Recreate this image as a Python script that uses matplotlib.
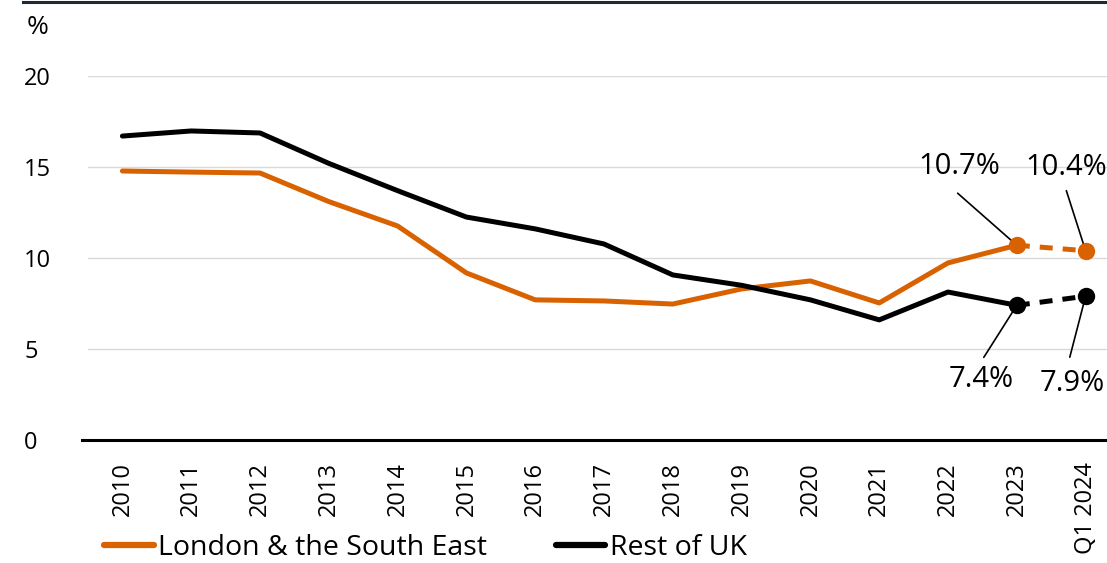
import matplotlib.pyplot as plt
from matplotlib.lines import Line2D

plt.rcParams['font.family'] = ['Open Sans', 'DejaVu Sans']

categories = ['2010', '2011', '2012', '2013', '2014', '2015', '2016', '2017',
              '2018', '2019', '2020', '2021', '2022', '2023', 'Q1 2024']
london_se = [14.78, 14.72, 14.67, 13.1, 11.76, 9.18, 7.7, 7.64, 7.47, 8.3,
             8.74, 7.53, 9.73, 10.7, 10.4]
rest_uk = [16.7, 16.98, 16.87, 15.2, 13.7, 12.25, 11.6, 10.77, 9.07, 8.5,
           7.7, 6.6, 8.13, 7.4, 7.9]
yticks = [0, 5, 10, 15, 20]

orange = '#d96200'
black = '#000000'

fig = plt.figure(figsize=(11.07, 5.63), dpi=100)
ax = fig.add_axes([88 / 1107, 1 - 440 / 563, 1 - 88 / 1107, (440 - 76) / 563])
ax.set_ylim(0, 20)
ax.set_xlim(-0.5, (1107 - 88) / 68.8 - 0.5)

x = list(range(len(categories)))
n = len(categories)
# solid history up to 2023, dashed to latest quarter
ax.plot(x[:n - 1], london_se[:n - 1], color=orange, lw=3.6, solid_capstyle='round', zorder=3)
ax.plot(x[n - 2:], london_se[n - 2:], color=orange, lw=3.6, ls=(0, (2.6, 2.0)), zorder=3)
ax.plot(x[:n - 1], rest_uk[:n - 1], color=black, lw=3.6, solid_capstyle='round', zorder=3)
ax.plot(x[n - 2:], rest_uk[n - 2:], color=black, lw=3.6, ls=(0, (2.6, 2.0)), zorder=3)
ax.plot(x[n - 2:], london_se[n - 2:], 'o', color=orange, ms=11.5, zorder=4)
ax.plot(x[n - 2:], rest_uk[n - 2:], 'o', color=black, ms=11.5, zorder=4)

# labels for the last two points: (line start dx, dy, text dx, dy)
def label(series, i, lx, ly, tx, ty):
    v = series[i]
    ax.annotate('', xy=(x[i], v), xytext=(x[i] + lx, v + ly),
                arrowprops=dict(arrowstyle='-', color='black', lw=1.2, shrinkA=0, shrinkB=1))
    ax.text(x[i] + tx, v + ty, f'{v:.1f}%', ha='center', va='center', fontsize=21)

label(london_se, n - 2, -0.86, 2.86, -0.84, 4.3)
label(london_se, n - 1, -0.28, 3.3, -0.28, 4.55)
label(rest_uk, n - 2, -0.48, -2.86, -0.52, -4.05)
label(rest_uk, n - 1, -0.23, -3.35, -0.2, -4.8)

ax.set_yticks(yticks)
ax.set_yticklabels([str(v) for v in yticks], fontsize=17)
ax.set_xticks(x)
ax.set_xticklabels(categories, rotation=90, fontsize=17, va='top')
ax.tick_params(axis='both', length=0)
ax.tick_params(axis='y', pad=46)
ax.tick_params(axis='x', pad=16)
for lab in ax.get_yticklabels():
    lab.set_horizontalalignment('left')
ax.grid(axis='y', color='#d9d9d9', lw=1)
ax.set_axisbelow(True)
for s in ['top', 'right', 'left']:
    ax.spines[s].set_visible(False)
ax.spines['bottom'].set_linewidth(2.2)
ax.spines['bottom'].set_bounds(-0.5 - 6 / 68.8, ax.get_xlim()[1])

fig.text(27 / 1107, 1 - 27 / 563, '%', fontsize=19, va='center', ha='left')
fig.add_artist(Line2D([23 / 1107, 1], [1 - 2 / 563, 1 - 2 / 563], color='#1f2937', lw=2.2))

handles = [Line2D([], [], color=orange, lw=4.5, solid_capstyle='round'),
           Line2D([], [], color=black, lw=4.5, solid_capstyle='round')]
fig.legend(handles, ['London & the South East', 'Rest of UK'], loc='center left',
           bbox_to_anchor=(90 / 1107, 1 - 548 / 563), ncol=2, frameon=False, fontsize=20.5,
           handlelength=1.75, handletextpad=0.15, columnspacing=2.4, borderpad=0)

fig.savefig('out.png', dpi=100)
